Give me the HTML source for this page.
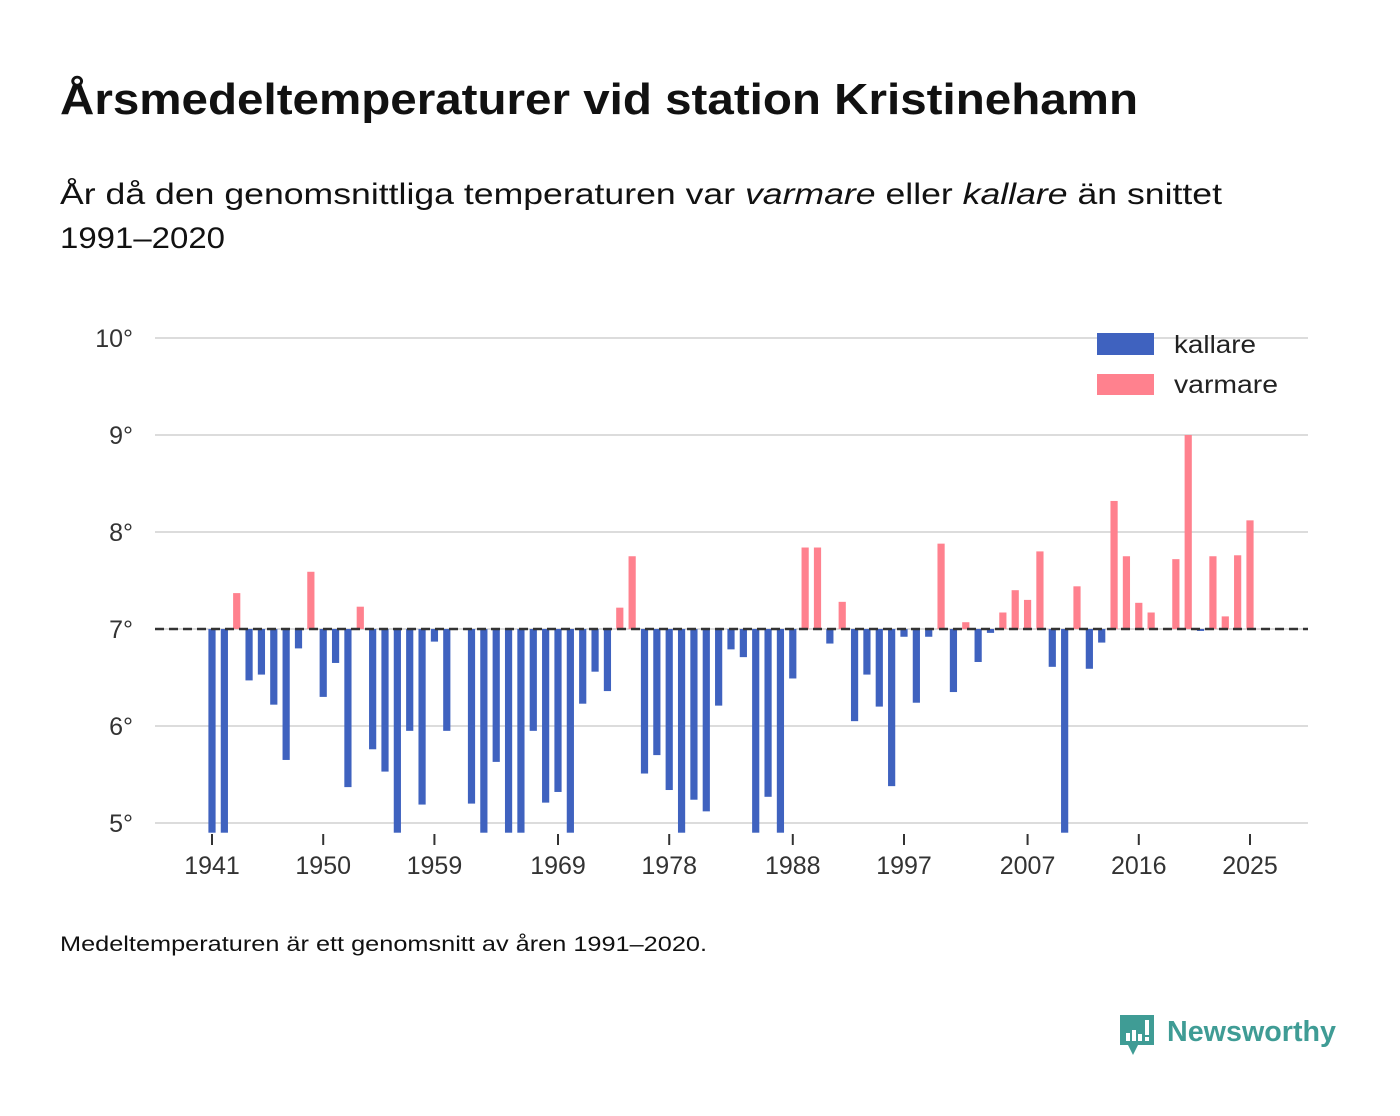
<!DOCTYPE html>
<html><head><meta charset="utf-8">
<style>
html,body{margin:0;padding:0;background:#fff;}
svg{display:block;font-family:"Liberation Sans",sans-serif;}
</style></head>
<body>
<svg id="chart" width="1400" height="1116" viewBox="0 0 1400 1116" xmlns="http://www.w3.org/2000/svg">
<rect width="1400" height="1116" fill="#fff"/>
<text x="60" y="114" font-size="44" font-weight="bold" fill="#111" textLength="1078" lengthAdjust="spacingAndGlyphs">Årsmedeltemperaturer vid station Kristinehamn</text>
<text x="60" y="204" font-size="30" fill="#111" textLength="1162" lengthAdjust="spacingAndGlyphs">År då den genomsnittliga temperaturen var <tspan font-style="italic">varmare</tspan> eller <tspan font-style="italic">kallare</tspan> än snittet</text>
<text x="60" y="248" font-size="30" fill="#111" textLength="165" lengthAdjust="spacingAndGlyphs">1991–2020</text>
<g id="grid"></g>
<g id="bars"></g>
<g id="xaxis"></g>
<g>
<rect x="1097" y="333" width="57" height="22" fill="#3f62bf"/>
<text x="1174" y="353" font-size="25" fill="#222" textLength="82" lengthAdjust="spacingAndGlyphs">kallare</text>
<rect x="1097" y="374" width="57" height="21" fill="#ff818e"/>
<text x="1174" y="393" font-size="25" fill="#222" textLength="104" lengthAdjust="spacingAndGlyphs">varmare</text>
</g>
<text x="60" y="951" font-size="21" fill="#111" textLength="647" lengthAdjust="spacingAndGlyphs">Medeltemperaturen är ett genomsnitt av åren 1991–2020.</text>
<g>
<path d="M1120 1015 h34 v30 h-16 l-5 10 l-5 -10 h-8 z" fill="#3f9c95"/>
<rect x="1126" y="1033" width="4" height="8" fill="#fff"/>
<rect x="1132" y="1030" width="4" height="11" fill="#fff"/>
<rect x="1138" y="1034" width="4" height="7" fill="#fff"/>
<rect x="1145" y="1020" width="4" height="15" fill="#fff"/>
<rect x="1145" y="1037" width="4" height="4" fill="#fff"/>
<text x="1167" y="1041" font-size="29" font-weight="bold" fill="#3f9c95" textLength="169" lengthAdjust="spacingAndGlyphs">Newsworthy</text>
</g>
</svg>
<script>
const years = [];
for (let y = 1941; y <= 2025; y++) years.push(y);
const temps = [
4.9,4.9,7.37,6.47,6.53,6.22,5.65,6.80,7.59,6.30,
6.65,5.37,7.23,5.76,5.53,4.9,5.95,5.19,6.87,5.95,
7.0,5.20,4.9,5.63,4.9,4.9,5.95,5.21,5.32,4.9,
6.23,6.56,6.36,7.22,7.75,5.51,5.70,5.34,4.9,5.24,
5.12,6.21,6.79,6.71,4.9,5.27,4.9,6.49,7.84,7.84,
6.85,7.28,6.05,6.53,6.20,5.38,6.92,6.24,6.92,7.88,
6.35,7.07,6.66,6.96,7.17,7.40,7.30,7.80,6.61,4.9,
7.44,6.59,6.86,8.32,7.75,7.27,7.17,7.0,7.72,9.0,
6.98,7.75,7.13,7.76,8.12
];
const yTicks = [5,6,7,8,9,10];
const xTicks = [1941,1950,1959,1969,1978,1988,1997,2007,2016,2025];
const baseline = 7;

const NS = "http://www.w3.org/2000/svg";
const yMin = 4.9;
function yScale(v){ return 629 - (v - 7) * 97; }
function xScale(yr){ return 212 + (yr - 1941) * (1250 - 212) / 84; }
function mk(tag, attrs, parent){ const e = document.createElementNS(NS, tag); for (const k in attrs) e.setAttribute(k, attrs[k]); parent.appendChild(e); return e; }

const grid = document.getElementById('grid');
yTicks.forEach(t => {
  const l = mk('line', {x1:155, x2:1308, y1:yScale(t), y2:yScale(t), stroke:'#dcdcdc', 'stroke-width':2}, grid);
  
  
  const tx = mk('text', {x:133, y:yScale(t)+9, 'font-size':25, fill:'#333', 'text-anchor':'end'}, grid);
  tx.textContent = t + '°';
  
  
});

const bars = document.getElementById('bars');
years.forEach((yr, i) => {
  const v = Math.max(temps[i], yMin);
  const y0 = yScale(baseline), y1 = yScale(v);
  const r = mk('rect', {x:xScale(yr)-3.6, y:Math.min(y0,y1), width:7.2, height:Math.abs(y1-y0), fill: temps[i] >= baseline ? '#ff818e' : '#3f62bf'}, bars);
  
  
});
const dl = mk('line', {x1:155, x2:1308, y1:yScale(baseline), y2:yScale(baseline), stroke:'#333', 'stroke-width':2.5, 'stroke-dasharray':'9,5'}, bars);



const xaxis = document.getElementById('xaxis');
xTicks.forEach(t => {
  const l = mk('line', {x1:xScale(t), x2:xScale(t), y1:834, y2:845, stroke:'#333', 'stroke-width':2}, xaxis);
  
  
  const tx = mk('text', {x:xScale(t), y:874, 'font-size':25, fill:'#333', 'text-anchor':'middle'}, xaxis);
  tx.textContent = t;
  
  
});
</script>
</body></html>
